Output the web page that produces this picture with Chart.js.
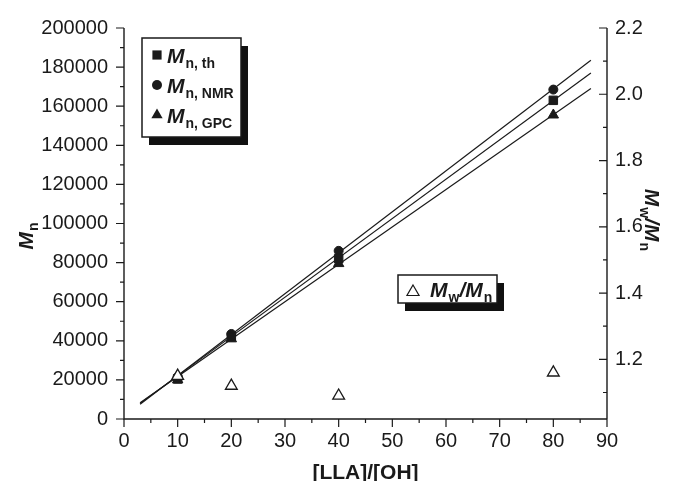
<!DOCTYPE html>
<html>
<head>
<meta charset="utf-8">
<script src="https://cdn.jsdelivr.net/npm/chart.js@4"></script>
<style>
  html, body { margin: 0; padding: 0; background: #fff; }
</style>
</head>
<body>
<canvas id="mnChart" width="673" height="481"></canvas>
<script>
// values
const ratio = [10, 20, 40, 80];
const mnTh = [20500, 42000, 82000, 163000];
const mnNmr = [21500, 43500, 86000, 168500];
const mnGpc = [20000, 41000, 79500, 155500];
const pdi = [1.15, 1.12, 1.09, 1.16];

// fitted straight lines, end points
const fitX = [3, 87];
const fitNmr = [7500, 183500];
const fitTh = [8000, 177000];
const fitGpc = [8300, 169000];

// axes
const xTicks = [0, 10, 20, 30, 40, 50, 60, 70, 80, 90];
const xMinor = [5, 15, 25, 35, 45, 55, 65, 75, 85];
const yTicks = [0, 20000, 40000, 60000, 80000, 100000, 120000, 140000, 160000, 180000, 200000];
const yMinor = [10000, 30000, 50000, 70000, 90000, 110000, 130000, 150000, 170000, 190000];
const y2Ticks = [1.2, 1.4, 1.6, 1.8, 2.0, 2.2];
const y2Minor = [1.1, 1.3, 1.5, 1.7, 1.9, 2.1];

const FONT = "'Liberation Sans', Arial, sans-serif";
const INK = "#1a1a1a";

function pts(xs, ys) {
  return xs.map(function (x, i) { return { x: x, y: ys[i] }; });
}

function drawRich(ctx, parts, x, y) {
  let cx = x;
  parts.forEach(function (p) {
    ctx.font = p.font;
    ctx.fillText(p.t, cx, y + (p.dy || 0));
    cx += ctx.measureText(p.t).width + (p.gap || 0);
  });
  return cx - x;
}

function richWidth(ctx, parts) {
  let w = 0;
  parts.forEach(function (p) {
    ctx.font = p.font;
    w += ctx.measureText(p.t).width + (p.gap || 0);
  });
  return w;
}

const bigM = "italic bold 21px " + FONT;
const sub = "bold 14px " + FONT;

function M(subText) {
  return [{ t: "M", font: bigM, gap: 1 }, { t: subText, font: sub, dy: 5 }];
}

function marker(ctx, kind, x, y, r) {
  ctx.beginPath();
  if (kind === "rect") {
    const s = r * Math.SQRT1_2;
    ctx.rect(x - s, y - s, 2 * s, 2 * s);
  } else if (kind === "circle") {
    ctx.arc(x, y, r, 0, Math.PI * 2);
  } else {
    ctx.moveTo(x, y - r);
    ctx.lineTo(x + r * 0.866, y + r * 0.5);
    ctx.lineTo(x - r * 0.866, y + r * 0.5);
    ctx.closePath();
  }
}

function boxWithShadow(ctx, x, y, w, h) {
  ctx.fillStyle = "#111";
  ctx.fillRect(x + 7, y + 8, w, h);
  ctx.fillStyle = "#fff";
  ctx.fillRect(x, y, w, h);
  ctx.strokeStyle = INK;
  ctx.lineWidth = 1.5;
  ctx.strokeRect(x, y, w, h);
}

const decorPlugin = {
  id: "decor",
  afterDraw: function (chart) {
    const ctx = chart.ctx;
    const a = chart.chartArea;
    const sx = chart.scales.x, sy = chart.scales.y, sy2 = chart.scales.y2;
    ctx.save();
    ctx.strokeStyle = INK;
    ctx.lineWidth = 1.4;
    ctx.lineCap = "butt";

    // axis lines
    ctx.beginPath();
    ctx.moveTo(a.left, a.top); ctx.lineTo(a.left, a.bottom); ctx.lineTo(a.right, a.bottom);
    ctx.moveTo(a.right, a.top); ctx.lineTo(a.right, a.bottom);
    ctx.stroke();

    // tick marks
    ctx.lineWidth = 1.2;
    ctx.beginPath();
    xTicks.forEach(function (v) { const p = sx.getPixelForValue(v); ctx.moveTo(p, a.bottom); ctx.lineTo(p, a.bottom + 8); });
    xMinor.forEach(function (v) { const p = sx.getPixelForValue(v); ctx.moveTo(p, a.bottom); ctx.lineTo(p, a.bottom + 4); });
    yTicks.forEach(function (v) { const p = sy.getPixelForValue(v); ctx.moveTo(a.left, p); ctx.lineTo(a.left - 8, p); });
    yMinor.forEach(function (v) { const p = sy.getPixelForValue(v); ctx.moveTo(a.left, p); ctx.lineTo(a.left - 4, p); });
    y2Ticks.forEach(function (v) { const p = sy2.getPixelForValue(v); ctx.moveTo(a.right, p); ctx.lineTo(a.right - 8, p); });
    y2Minor.forEach(function (v) { const p = sy2.getPixelForValue(v); ctx.moveTo(a.right, p); ctx.lineTo(a.right - 4, p); });
    ctx.stroke();

    ctx.fillStyle = INK;
    ctx.textBaseline = "alphabetic";

    // bottom title
    ctx.font = "bold 21px " + FONT;
    ctx.textAlign = "center";
    ctx.fillText("[LLA]/[OH]", (a.left + a.right) / 2, 479);
    ctx.textAlign = "left";

    // left title
    const leftParts = M("n");
    ctx.save();
    ctx.translate(33, 236);
    ctx.rotate(-Math.PI / 2);
    drawRich(ctx, leftParts, -richWidth(ctx, leftParts) / 2, 0);
    ctx.restore();

    // right title
    const rightParts = [
      { t: "M", font: bigM, gap: 1 }, { t: "w", font: sub, dy: 5 },
      { t: "/", font: bigM }, { t: "M", font: bigM, gap: 1 }, { t: "n", font: sub, dy: 5 }
    ];
    ctx.save();
    ctx.translate(645, 220);
    ctx.rotate(Math.PI / 2);
    drawRich(ctx, rightParts, -richWidth(ctx, rightParts) / 2, 0);
    ctx.restore();

    // legend for Mn
    boxWithShadow(ctx, 142, 38, 99, 99);
    const rows = [["rect", "n, th", 55], ["circle", "n, NMR", 85], ["triangle", "n, GPC", 115]];
    rows.forEach(function (r) {
      ctx.fillStyle = INK;
      marker(ctx, r[0], 157, r[2], r[0] === "circle" ? 5 : 6.5);
      ctx.fill();
      drawRich(ctx, M(r[1]), 167, r[2] + 8);
    });

    // legend for Mw/Mn
    boxWithShadow(ctx, 398, 275, 99, 28);
    ctx.strokeStyle = INK;
    ctx.lineWidth = 1.2;
    marker(ctx, "triangle", 413, 292, 7);
    ctx.stroke();
    ctx.fillStyle = INK;
    drawRich(ctx, rightParts, 430, 297);

    ctx.restore();
  }
};

function lineSet(ys) {
  return {
    type: "line",
    data: pts(fitX, ys),
    borderColor: INK,
    borderWidth: 1.2,
    pointRadius: 0,
    showLine: true,
    yAxisID: "y",
    order: 5
  };
}

function markSet(label, ys, style, r, axis) {
  return {
    label: label,
    data: pts(ratio, ys),
    pointStyle: style,
    pointRadius: r,
    pointBackgroundColor: INK,
    pointBorderColor: INK,
    pointBorderWidth: 1,
    showLine: false,
    yAxisID: axis,
    order: 2
  };
}

function setTicks(values) {
  return function (scale) {
    scale.ticks = values.map(function (v) { return { value: v }; });
  };
}

function loadChart() {
  const canvas = document.getElementById("mnChart");
  if (!canvas) return;

  const pdiSet = markSet("Mw/Mn", pdi, "triangle", 6.8, "y2");
  pdiSet.pointBackgroundColor = "#fff";
  pdiSet.pointBorderWidth = 1.3;
  pdiSet.order = 1;

  const tickFont = { family: FONT, size: 20 };

  new Chart(canvas, {
    type: "scatter",
    data: {
      datasets: [
        lineSet(fitNmr),
        lineSet(fitTh),
        lineSet(fitGpc),
        markSet("Mn,th", mnTh, "rect", 6, "y"),
        markSet("Mn,NMR", mnNmr, "circle", 4.5, "y"),
        markSet("Mn,GPC", mnGpc, "triangle", 6, "y"),
        pdiSet
      ]
    },
    options: {
      responsive: false,
      animation: false,
      events: [],
      layout: { padding: { top: 22, left: 0, right: 0, bottom: 0 } },
      plugins: { legend: { display: false }, tooltip: { enabled: false } },
      scales: {
        x: {
          type: "linear",
          min: 0,
          max: 90,
          afterBuildTicks: setTicks(xTicks),
          afterFit: function (s) { s.height = 62; },
          grid: { display: false, drawTicks: false, tickLength: 0 },
          border: { display: false },
          ticks: { color: INK, font: tickFont, padding: 10, callback: function (v) { return String(v); } }
        },
        y: {
          position: "left",
          min: 0,
          max: 200000,
          afterBuildTicks: setTicks(yTicks),
          afterFit: function (s) { s.width = 124; },
          grid: { display: false, drawTicks: false, tickLength: 0 },
          border: { display: false },
          ticks: { color: INK, font: tickFont, padding: 16, callback: function (v) { return String(v); } }
        },
        y2: {
          position: "right",
          min: 1.02,
          max: 2.2,
          afterBuildTicks: setTicks(y2Ticks),
          afterFit: function (s) { s.width = 66; },
          grid: { display: false, drawTicks: false, tickLength: 0 },
          border: { display: false },
          ticks: {
            color: INK,
            font: tickFont,
            padding: 8,
            callback: function (v) { return Number(v).toFixed(1); }
          }
        }
      }
    },
    plugins: [decorPlugin]
  });
}

loadChart();
</script>
</body>
</html>
